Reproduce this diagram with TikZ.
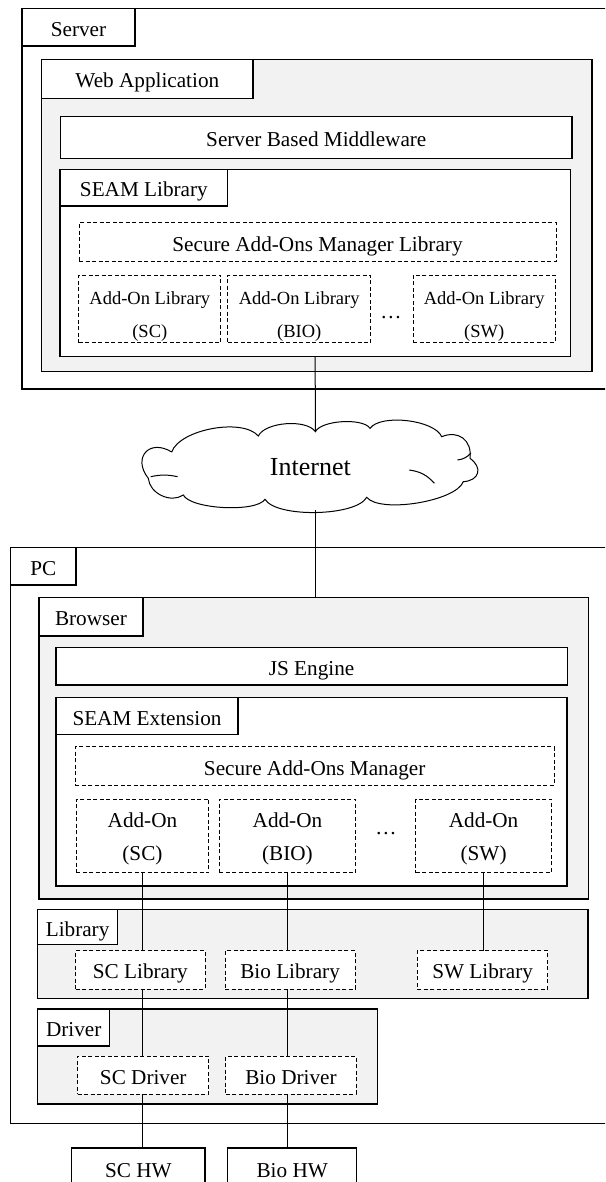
\documentclass[tikz,border=0pt]{standalone}
\usepackage{fontspec}
\setmainfont{Liberation Serif}
\definecolor{grayfill}{HTML}{F2F2F2}
\newcommand\fmain{\fontsize{21.2}{25}\selectfont}
\newcommand\fsmalltwo{\fontsize{18.5}{33}\selectfont}
\newcommand\fpctwo{\fontsize{21.2}{32.6}\selectfont}
\newcommand\fbig{\fontsize{26}{30}\selectfont}
\tikzset{
  box/.style={draw, line width=1.2pt, fill=white, inner sep=0pt, outer sep=0pt,
    anchor=north west, text height=18pt, text depth=0pt, font=\fmain},
  grp/.style={box, fill=grayfill},
  dbox/.style={box, dashed, dash pattern=on 4pt off 2.5pt, line width=1pt},
  srvaddon/.style={dbox, font=\fsmalltwo, align=center, text height=56.6pt, text depth=0pt},
  pcaddon/.style={dbox, font=\fpctwo, align=center, text height=48.8pt, text depth=0pt},
  sz/.style 2 args={minimum width=#1pt, minimum height=#2pt},
  conn/.style={draw, line width=1pt},
  cloudline/.style={draw, line width=1pt},
}
\begin{document}
\begin{tikzpicture}[x=1pt, y=-1pt]
\useasboundingbox (0,0) rectangle (605,1182);
\clip (0,0) rectangle (605,1182);
% ---------------- Server ----------------
\node[box, sz={640}{380.7}] (server) at (22,8.3) {};
\node[box, sz={113}{37.7}] (serverlbl) at (22,8.3) {Server};
\node[grp, sz={550.3}{312.4}] (webapp) at (41.7,59.3) {};
\node[box, sz={211.3}{39.4}] (webapplbl) at (41.7,59.3) {Web Application};
\node[box, sz={511.4}{42}] (sbm) at (60.6,116.3) {Server Based Middleware};
\node[box, sz={510.3}{187.4}] (seamlib) at (60,169.3) {};
\node[box, sz={167.7}{36.7}] (seamliblbl) at (60,169.3) {SEAM Library};
\node[dbox, sz={477}{39}] (saml) at (79,222.7) {Secure Add-Ons Manager Library};
\node[srvaddon, sz={142}{67.7}] (alsc) at (78.8,275) {Add-On Library\\(SC)};
\node[srvaddon, sz={142.9}{67.7}] (albio) at (227.8,275) {Add-On Library\\(BIO)};
\node[srvaddon, sz={141.7}{67.7}] (alsw) at (413.3,275) {Add-On Library\\(SW)};
\node[font=\fmain, inner sep=0pt] (sdots) at (391,317.7) {\ldots};
% ---------------- Internet cloud ----------------
\coordinate (P1) at (171.7,452);
\coordinate (P2) at (258.3,436);
\coordinate (ctop) at (315.4,431.7);
\coordinate (P4) at (370,428.3);
\coordinate (P5) at (441.7,436.7);
\coordinate (P6) at (470,458.3);
\coordinate (P7) at (463.3,481.7);
\coordinate (P8) at (366.7,497.3);
\coordinate (P9) at (265,499.3);
\coordinate (P10) at (183.3,495);
\coordinate (P11) at (148.3,478.3);
\coordinate (cbot) at (315.4,510);
\draw[cloudline] (P1) to[bend left=60, looseness=0.7] (P2)
  to[bend left=60, looseness=0.7] (ctop)
  to[bend left=60, looseness=0.6] (P4)
  to[bend left=60, looseness=0.65] (P5)
  to[bend left=60, looseness=1.3] (P6)
  to[bend left=70, looseness=1.7] (P7)
  to[bend left=60, looseness=0.55] (P8)
  to[bend left=60, looseness=0.55] (P9)
  to[bend left=60, looseness=0.5] (P10)
  to[bend left=60, looseness=1.0] (P11)
  to[bend left=80, looseness=1.9] (P1);
\draw[cloudline] (150.6,476.7) to[bend left=12] (177.6,476.7);
\draw[cloudline] (409.3,470) to[bend left=20] (434.4,483.3);
\draw[cloudline] (457.5,460) to[bend right=20] (471,453);
\node[font=\fbig, inner sep=0pt, anchor=base] (inet) at (310.4,475.6) {Internet};
% ---------------- PC ----------------
\node[box, sz={640}{575.6}] (pc) at (10.5,547.7) {};
\node[box, sz={65.5}{37.3}] (pclbl) at (10.5,547.7) {PC};
\node[grp, sz={549.8}{301.7}] (browser) at (39,597.3) {};
\node[box, sz={103.9}{38.7}] (browserlbl) at (39,597.3) {Browser};
\node[box, sz={511.2}{37.3}] (js) at (56,647.7) {JS Engine};
\node[box, sz={511}{188.3}] (seamext) at (56,697.7) {};
\node[box, sz={182}{36.6}] (seamextlbl) at (56,697.7) {SEAM Extension};
\node[dbox, sz={478.7}{38.6}] (sam) at (75.3,746.7) {Secure Add-Ons Manager};
\node[pcaddon, sz={132.9}{73.7}] (aosc) at (76,799) {Add-On\\(SC)};
\node[pcaddon, sz={136.3}{73.7}] (aobio) at (219.3,799) {Add-On\\(BIO)};
\node[pcaddon, sz={135.6}{73.7}] (aosw) at (415.8,799) {Add-On\\(SW)};
\node[font=\fmain, inner sep=0pt] (pdots) at (386,833.3) {\ldots};
% Library
\node[grp, sz={550.2}{88.6}] (lib) at (37.8,909.7) {};
\node[box, sz={79.6}{35}] (liblbl) at (37.8,909.7) {Library};
\node[dbox, sz={129.3}{38.3}] (sclib) at (75.7,950.7) {SC Library};
\node[dbox, sz={130.2}{38.3}] (biolib) at (225,950.7) {Bio Library};
\node[dbox, sz={130.5}{38.3}] (swlib) at (417.4,950.7) {SW Library};
% Driver
\node[grp, sz={340}{95}] (drv) at (37.7,1009) {};
\node[box, sz={72}{37}] (drvlbl) at (37.7,1009) {Driver};
\node[dbox, sz={131.3}{38}] (scdrv) at (77.6,1056) {SC Driver};
\node[dbox, sz={130.1}{38}] (biodrv) at (225.9,1056) {Bio Driver};
% Hardware
\node[box, sz={133.3}{40}] (schw) at (71.7,1148) {SC HW};
\node[box, sz={129}{40}] (biohw) at (227.7,1148) {Bio HW};
% ---------------- Connectors ----------------
\draw[conn] (seamlib.south) -- (ctop);
\draw[conn] (cbot) -- (cbot |- browser.north);
\draw[conn] (aosc.south) -- (aosc.south |- sclib.north);
\draw[conn] (aosc.south |- sclib.south) -- (aosc.south |- scdrv.north);
\draw[conn] (aosc.south |- scdrv.south) -- (aosc.south |- schw.north);
\draw[conn] (aobio.south) -- (aobio.south |- biolib.north);
\draw[conn] (aobio.south |- biolib.south) -- (aobio.south |- biodrv.north);
\draw[conn] (aobio.south |- biodrv.south) -- (aobio.south |- biohw.north);
\draw[conn] (aosw.south) -- (aosw.south |- swlib.north);
\end{tikzpicture}
\end{document}
